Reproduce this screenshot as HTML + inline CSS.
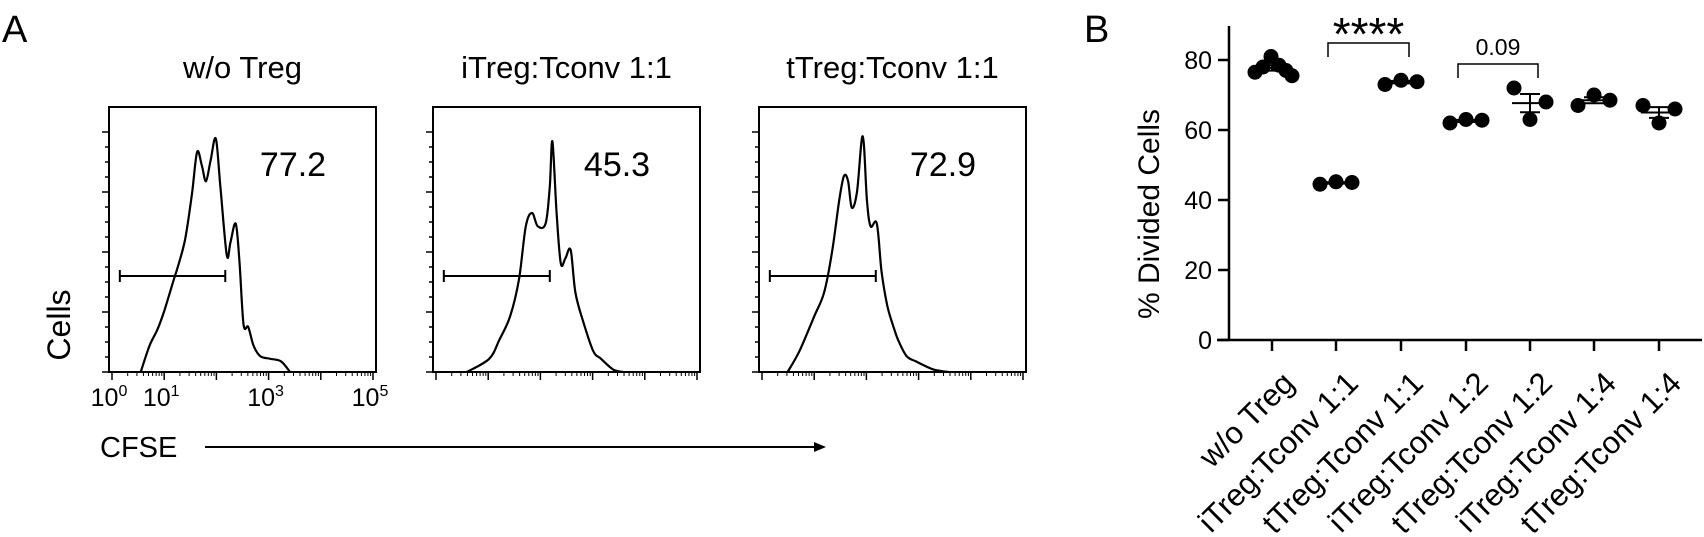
<!DOCTYPE html>
<html><head><meta charset="utf-8"><style>
html,body{margin:0;padding:0;background:#fff;}
svg{display:block;font-family:"Liberation Sans",Arial,sans-serif;}
</style></head><body>
<svg id="fig" width="1704" height="537" viewBox="0 0 1704 537">
<text x="2" y="42" font-size="38">A</text>
<text x="1084" y="42" font-size="38">B</text>
<g id="panelA"></g>
<text transform="translate(70,325) rotate(-90)" text-anchor="middle" font-size="32">Cells</text>
<text x="100" y="457" font-size="29">CFSE</text>
<line x1="205" y1="447" x2="818" y2="447" stroke="#000" stroke-width="2"/>
<path d="M826,447 L814,442 L814,452 Z" fill="#000"/>
<g id="panelB"></g>
</svg>
<script>
const NS="http://www.w3.org/2000/svg";
function mk(tag,attrs,parent){const e=document.createElementNS(NS,tag);for(const k in attrs)e.setAttribute(k,attrs[k]);parent.appendChild(e);return e;}

// ---------- Panel A data ----------
const histTitles=["w/o Treg","iTreg:Tconv 1:1","tTreg:Tconv 1:1"];
const histPercents=["77.2","45.3","72.9"];
const gateRange=[[0.15,2.17],[0.15,2.18],[0.15,2.18]];
const histLog1=[0.55,0.72,0.87,1.0,1.17,1.25,1.40,1.53,1.63,1.72,1.80,1.89,1.99,2.08,2.20,2.27,2.37,2.44,2.52,2.61,2.71,2.84,3.03,3.24,3.41];
const histVal1=[0,0.10,0.16,0.23,0.34,0.39,0.50,0.67,0.83,0.78,0.72,0.80,0.88,0.69,0.44,0.49,0.56,0.42,0.18,0.17,0.10,0.06,0.05,0.04,0];
const histLog2=[0.59,1.02,1.21,1.42,1.59,1.72,1.84,1.95,2.10,2.18,2.23,2.31,2.39,2.48,2.58,2.67,2.82,3.01,3.16,3.39,3.58];
const histVal2=[0,0.05,0.12,0.21,0.35,0.55,0.60,0.55,0.56,0.70,0.87,0.60,0.41,0.43,0.46,0.30,0.19,0.08,0.05,0.01,0];
const histLog3=[0.49,0.72,1.0,1.19,1.34,1.48,1.57,1.65,1.72,1.82,1.93,2.01,2.08,2.20,2.29,2.40,2.52,2.61,2.77,2.95,3.28,3.58];
const histVal3=[0,0.08,0.21,0.30,0.45,0.65,0.74,0.72,0.62,0.68,0.89,0.65,0.55,0.56,0.38,0.25,0.17,0.12,0.06,0.04,0.01,0];
const histLogs=[histLog1,histLog2,histLog3];
const histVals=[histVal1,histVal2,histVal3];
const xTickLabels=["0","1","3","5"];
const xTickPos=[0,1,3,5];

function smoothPath(pts){
  let d='M'+pts[0][0].toFixed(1)+','+pts[0][1].toFixed(1);
  for(let i=0;i<pts.length-1;i++){
    const p0=pts[Math.max(0,i-1)],p1=pts[i],p2=pts[i+1],p3=pts[Math.min(pts.length-1,i+2)];
    const c1=[p1[0]+(p2[0]-p0[0])/6,p1[1]+(p2[1]-p0[1])/6];
    const c2=[p2[0]-(p3[0]-p1[0])/6,p2[1]-(p3[1]-p1[1])/6];
    d+=` C${c1[0].toFixed(1)},${c1[1].toFixed(1)} ${c2[0].toFixed(1)},${c2[1].toFixed(1)} ${p2[0].toFixed(1)},${p2[1].toFixed(1)}`;
  }
  return d;
}

const boxX=[109,433,759], boxW=267, boxTop=107, boxBot=372;
const A=document.getElementById('panelA');
for(let i=0;i<3;i++){
  const x0=boxX[i];
  const g=mk('g',{},A);
  
  
  const sx=v=>x0+3+v*(boxW-6)/5;
  const sy=f=>boxBot-f*(boxBot-boxTop);
  const t=mk('text',{x:x0+boxW/2,y:78,'text-anchor':'middle','font-size':31},g);
  t.textContent=histTitles[i];
  
  
  const r=mk('rect',{x:x0,y:boxTop,width:boxW,height:boxBot-boxTop,fill:'none',stroke:'#000','stroke-width':2},g);
  
  
  for(let k=0;k<=16;k++){
    const y=boxBot-k*15;
    if(y<boxTop+5)break;
    const major=k%4===0;
    mk('line',{x1:x0-(major?7:4),y1:y,x2:x0,y2:y,stroke:'#000','stroke-width':1.5},g);
  }
  for(let d=0;d<=5;d++){
    const xm=sx(d);
    mk('line',{x1:xm,y1:boxBot,x2:xm,y2:boxBot+8,stroke:'#000','stroke-width':1.5},g);
    if(d<5)for(let m=2;m<=9;m++){const xx=sx(d+Math.log10(m));mk('line',{x1:xx,y1:boxBot,x2:xx,y2:boxBot+4,stroke:'#000','stroke-width':1},g);}
  }
  if(i===0){
    for(let j=0;j<xTickLabels.length;j++){
      const tl=mk('text',{x:sx(xTickPos[j])-3,y:406,'text-anchor':'middle','font-size':25},g);
      
      
      tl.appendChild(document.createTextNode('10'));
      const sp=mk('tspan',{dy:-10,'font-size':16},tl);sp.textContent=xTickLabels[j];
    }
  }
  const L=histLogs[i],V=histVals[i];
  const pts=L.map((l,j)=>[sx(l),sy(V[j])]);
  const p=mk('path',{d:smoothPath(pts),fill:'none',stroke:'#000','stroke-width':2.2,'stroke-linejoin':'round'},g);
  
  
  const gx1=sx(gateRange[i][0]),gx2=sx(gateRange[i][1]),gy=276;
  const gate=mk('path',{d:`M${gx1},${gy} H${gx2} M${gx1},${gy-6} V${gy+6} M${gx2},${gy-6} V${gy+6}`,stroke:'#000','stroke-width':2,fill:'none'},g);
  
  
  const pt=mk('text',{x:x0+184,y:176,'text-anchor':'middle','font-size':34},g);
  pt.textContent=histPercents[i];
  
  
}

// ---------- Panel B data ----------
const categories=["w/o Treg","iTreg:Tconv 1:1","tTreg:Tconv 1:1","iTreg:Tconv 1:2","tTreg:Tconv 1:2","iTreg:Tconv 1:4","tTreg:Tconv 1:4"];
const g1=[76.5,78,81,78.5,77,75.5];
const g2=[44.5,45.2,45];
const g3=[73,74.2,73.8];
const g4=[62,63,62.8];
const g5=[72,63,68];
const g6=[67,70,68.5];
const g7=[67,62,66];
const groups=[g1,g2,g3,g4,g5,g6,g7];
const yTicks=[0,20,40,60,80];

const B=document.getElementById('panelB');
const ax0=1229,y0=340,yPer=3.5;
const catX=[1272,1336,1401,1466,1530,1594,1659];
const sy=v=>y0-v*yPer;
const yl=mk('line',{x1:ax0,y1:26,x2:ax0,y2:y0,stroke:'#000','stroke-width':2.5},B);


const xl=mk('line',{x1:ax0-12,y1:y0,x2:1702,y2:y0,stroke:'#000','stroke-width':2.5},B);


yTicks.forEach(v=>{
  mk('line',{x1:ax0-11,y1:sy(v),x2:ax0,y2:sy(v),stroke:'#000','stroke-width':2.5},B);
  const t=mk('text',{x:ax0-17,y:sy(v)+9,'text-anchor':'end','font-size':25},B);
  t.textContent=v;
  
  
});
const yt=mk('text',{transform:'translate(1159,214) rotate(-90)','text-anchor':'middle','font-size':30},B);
yt.textContent='% Divided Cells';


categories.forEach((c,i)=>{
  const x=catX[i];
  mk('line',{x1:x,y1:y0,x2:x,y2:y0+11,stroke:'#000','stroke-width':2.5},B);
  const t=mk('text',{transform:`translate(${x+24},${y0+45}) rotate(-45)`,'text-anchor':'end','font-size':31},B);
  t.textContent=c;
  
  
});
groups.forEach((vals,i)=>{
  const cx=catX[i];
  const n=vals.length;
  const mean=vals.reduce((a,b)=>a+b,0)/n;
  const sd=Math.sqrt(vals.reduce((a,b)=>a+(b-mean)**2,0)/(n-1));
  const sem=sd/Math.sqrt(n);
  const gg=mk('g',{},B);
  
  
  vals.forEach((v,j)=>{
    const off=n===6?[-17,-9,-1,7,14,20][j]:[-16,0,16][j];
    const c=mk('circle',{cx:cx+off,cy:sy(v),r:7.5,fill:'#000'},gg);
    
    
  });
  mk('line',{x1:cx-18,y1:sy(mean),x2:cx+18,y2:sy(mean),stroke:'#000','stroke-width':2},gg);
  mk('line',{x1:cx,y1:sy(mean+sem),x2:cx,y2:sy(mean-sem),stroke:'#000','stroke-width':2},gg);
  mk('line',{x1:cx-10,y1:sy(mean+sem),x2:cx+10,y2:sy(mean+sem),stroke:'#000','stroke-width':2},gg);
  mk('line',{x1:cx-10,y1:sy(mean-sem),x2:cx+10,y2:sy(mean-sem),stroke:'#000','stroke-width':2},gg);
});
const b1=mk('path',{d:`M${catX[1]-8},57 V43 H${catX[2]+8} V57`,fill:'none',stroke:'#000','stroke-width':1.5},B);


const s1=mk('text',{x:(catX[1]+catX[2])/2,y:50,'text-anchor':'middle','font-size':46},B);
s1.textContent='****';


const b2=mk('path',{d:`M${catX[3]-8},78 V64 H${catX[4]+8} V78`,fill:'none',stroke:'#000','stroke-width':1.5},B);


const s2=mk('text',{x:(catX[3]+catX[4])/2,y:55,'text-anchor':'middle','font-size':23},B);
s2.textContent='0.09';


</script>
</body></html>
